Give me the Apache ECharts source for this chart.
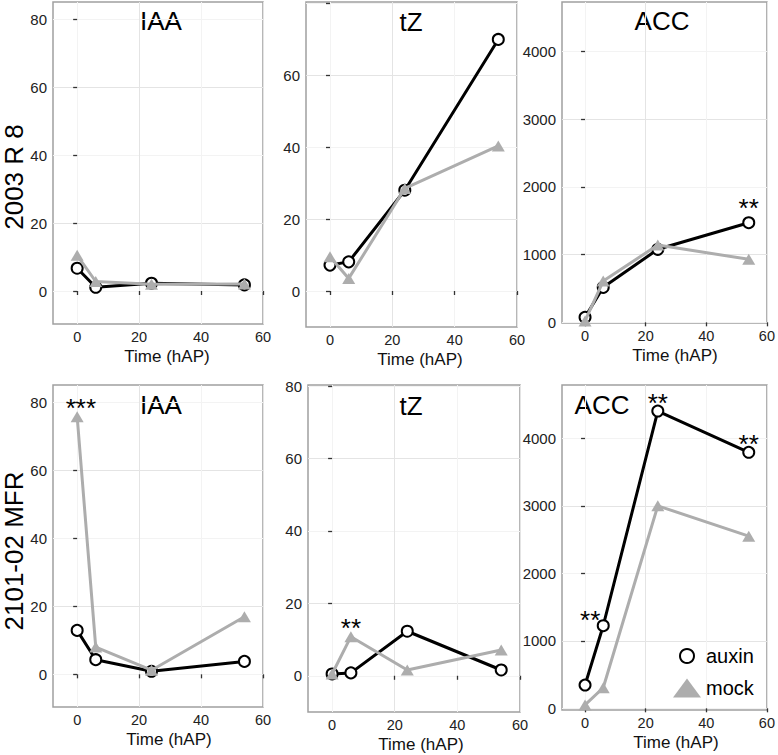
<!DOCTYPE html>
<html>
<head>
<meta charset="utf-8">
<script src="https://cdn.jsdelivr.net/npm/echarts@6/dist/echarts.min.js"></script>
<style>
html,body{margin:0;padding:0;background:#fff;}
#c{width:778px;height:755px;}
</style>
</head>
<body>
<div id="c"></div>
<script>
// ---- data ----
const times = [0, 6, 24, 54];
const r8IaaAuxin = [6.7, 1.1, 2.3, 1.8];
const r8IaaMock = [10.5, 2.8, 2.0, 2.1];
const r8TzAuxin = [7.2, 8.1, 28.0, 69.9];
const r8TzMock = [9.5, 3.5, 28.5, 40.3];
const r8AccAuxin = [74, 517, 1079, 1472];
const r8AccMock = [20, 610, 1142, 931];
const mfrIaaAuxin = [12.9, 4.3, 0.9, 3.8];
const mfrIaaMock = [75.7, 8.0, 1.2, 16.9];
const mfrTzAuxin = [0.5, 0.8, 12.3, 1.6];
const mfrTzMock = [0.5, 10.8, 1.6, 7.1];
const mfrAccAuxin = [345, 1224, 4404, 3793];
const mfrAccMock = [50, 305, 3000, 2550];

const timeTicks = [0, 20, 40, 60];
const iaaTicks = [0, 20, 40, 60, 80];
const tzTicks = [0, 20, 40, 60, 80];
const accTicks = [0, 1000, 2000, 3000, 4000];

const rowNames = ['2003 R 8', '2101-02 MFR'];
const panelTitles = ['IAA', 'tZ', 'ACC', 'IAA', 'tZ', 'ACC'];
const seriesNames = ['auxin', 'mock'];
const xAxisTitle = 'Time (hAP)';

// significance marks: [panel, time, value, text]
const sigMarks = [
  [2, 54, 1690, '**'],
  [3, 1.2, 78.2, '***'],
  [4, 6, 13.2, '**'],
  [5, 1.7, 1310, '**'],
  [5, 24, 4516, '**'],
  [5, 54, 3916, '**']
];

// ---- layout / style ----
const FONT = '"Liberation Sans", Arial, Helvetica, sans-serif';
const MAJOR = '#e4e4e4', MINOR = '#f3f3f3';
const BLACK = '#000000', GREY = '#adadad';

const panels = [
  {grid:{left:53, top:2, width:210, height:322}, x:[-7.8,60], y:[-9.7,85], yTicks:iaaTicks, yLabels:iaaTicks, auxin:r8IaaAuxin, mock:r8IaaMock, step:10},
  {grid:{left:306, top:2, width:211, height:325}, x:[-7.7,60], y:[-10,80.3], yTicks:tzTicks, yLabels:[0,20,40,60], auxin:r8TzAuxin, mock:r8TzMock, step:10},
  {grid:{left:562, top:2, width:209, height:321}, x:[-7.6,60], y:[-10,4734], yTicks:accTicks, yLabels:accTicks, auxin:r8AccAuxin, mock:r8AccMock, step:500},
  {grid:{left:53, top:385, width:210, height:322}, x:[-7.8,60], y:[-9.6,85], yTicks:iaaTicks, yLabels:iaaTicks, auxin:mfrIaaAuxin, mock:mfrIaaMock, step:10},
  {grid:{left:308, top:385, width:212, height:327}, x:[-7.7,60], y:[-10,80.3], yTicks:tzTicks, yLabels:tzTicks, auxin:mfrTzAuxin, mock:mfrTzMock, step:10},
  {grid:{left:562, top:385, width:208, height:325}, x:[-7.6,60], y:[-25,4790], yTicks:accTicks, yLabels:accTicks, auxin:mfrAccAuxin, mock:mfrAccMock, step:500}
];
const titlePos = [[161,21],[411,22],[662,21],[161,405],[411,406],[602,405]];
const xTitleX = [167, 420, 675, 169, 421, 676];

const grid = [], xAxis = [], yAxis = [], series = [], graphic = [];
const fmt = v => String(v);
panels.forEach((p, i) => {
  grid.push(Object.assign({show:true, borderColor:'#a0a0a0', borderWidth:1.5, backgroundColor:'#fff', containLabel:false}, p.grid));
  xAxis.push({
    type:'value', gridIndex:i, min:p.x[0], max:p.x[1], minInterval:10, maxInterval:10,
    axisLine:{show:false},
    axisTick:{show:true, length:4, inside:false, customValues:timeTicks, lineStyle:{color:'#333', width:1.3}},
    axisLabel:{show:true, margin:5, customValues:timeTicks, formatter:fmt, fontFamily:FONT, fontSize:14.5, color:'#222'},
    splitLine:{show:true, lineStyle:{color:[MINOR, MAJOR], width:1}}
  });
  yAxis.push({
    type:'value', gridIndex:i, min:p.y[0], max:p.y[1], minInterval:p.step, maxInterval:p.step,
    axisLine:{show:false},
    axisTick:{show:true, length:4, customValues:p.yTicks, lineStyle:{color:'#333', width:1.3}},
    axisLabel:{show:true, margin:6, customValues:p.yLabels, formatter:fmt, fontFamily:FONT, fontSize:15, color:'#222'},
    splitLine:{show:true, lineStyle:{color:[MINOR, MAJOR], width:1}}
  });
  const marks = sigMarks.filter(m => m[0] === i).map(m => ({
    coord:[m[1], m[2]], symbol:'circle', symbolSize:0,
    label:{show:true, position:'inside', formatter:m[3], fontFamily:FONT, fontSize:26, color:'#000'}
  }));
  series.push({
    name:seriesNames[0], type:'line', xAxisIndex:i, yAxisIndex:i,
    data: times.map((t, k) => [t, p.auxin[k]]),
    symbol:'circle', symbolSize:11, showAllSymbol:true,
    lineStyle:{color:BLACK, width:3},
    itemStyle:{color:'#fff', borderColor:BLACK, borderWidth:2},
    emphasis:{disabled:true}, animation:false, z:2,
    markPoint:{data:marks, animation:false, silent:true}
  });
  series.push({
    name:seriesNames[1], type:'line', xAxisIndex:i, yAxisIndex:i,
    data: times.map((t, k) => [t, p.mock[k]]),
    symbol:'triangle', symbolSize:[13,11], showAllSymbol:true,
    lineStyle:{color:GREY, width:3},
    itemStyle:{color:GREY, borderWidth:0},
    emphasis:{disabled:true}, animation:false, z:3
  });
  graphic.push({type:'text', x:titlePos[i][0], y:titlePos[i][1], silent:true,
    style:{text:panelTitles[i], fontFamily:FONT, fontSize:26, fill:'#000', textAlign:'center', textVerticalAlign:'middle'}});
  const axisBottom = p.grid.top + p.grid.height;
  graphic.push({type:'text', x:xTitleX[i], y:axisBottom + 32, silent:true,
    style:{text:xAxisTitle, fontFamily:FONT, fontSize:17, fill:'#111', textAlign:'center', textVerticalAlign:'middle'}});
});
graphic.push({type:'text', x:14, y:177, rotation:Math.PI/2, silent:true,
  style:{text:rowNames[0], fontFamily:FONT, fontSize:26, fill:'#000', textAlign:'center', textVerticalAlign:'middle'}});
graphic.push({type:'text', x:14, y:551, rotation:Math.PI/2, silent:true,
  style:{text:rowNames[1], fontFamily:FONT, fontSize:26, fill:'#000', textAlign:'center', textVerticalAlign:'middle'}});

const legend = [
  {data:[{name:seriesNames[0], icon:'circle', itemStyle:{color:'#fff', borderColor:BLACK, borderWidth:2}}],
   left:679, top:646, padding:0, itemWidth:28, itemHeight:14, selectedMode:false,
   textStyle:{fontFamily:FONT, fontSize:20, color:'#000'}},
  {data:[{name:seriesNames[1], icon:'triangle', itemStyle:{color:GREY, borderWidth:0}}],
   left:673, top:678, padding:0, itemWidth:28, itemHeight:19, selectedMode:false,
   textStyle:{fontFamily:FONT, fontSize:20, color:'#000'}}
];

const chart = echarts.init(document.getElementById('c'), null, {renderer:'svg', width:778, height:755});
chart.setOption({
  backgroundColor:'#fff', animation:false,
  grid, xAxis, yAxis, series, legend, graphic
});
</script>
</body>
</html>
